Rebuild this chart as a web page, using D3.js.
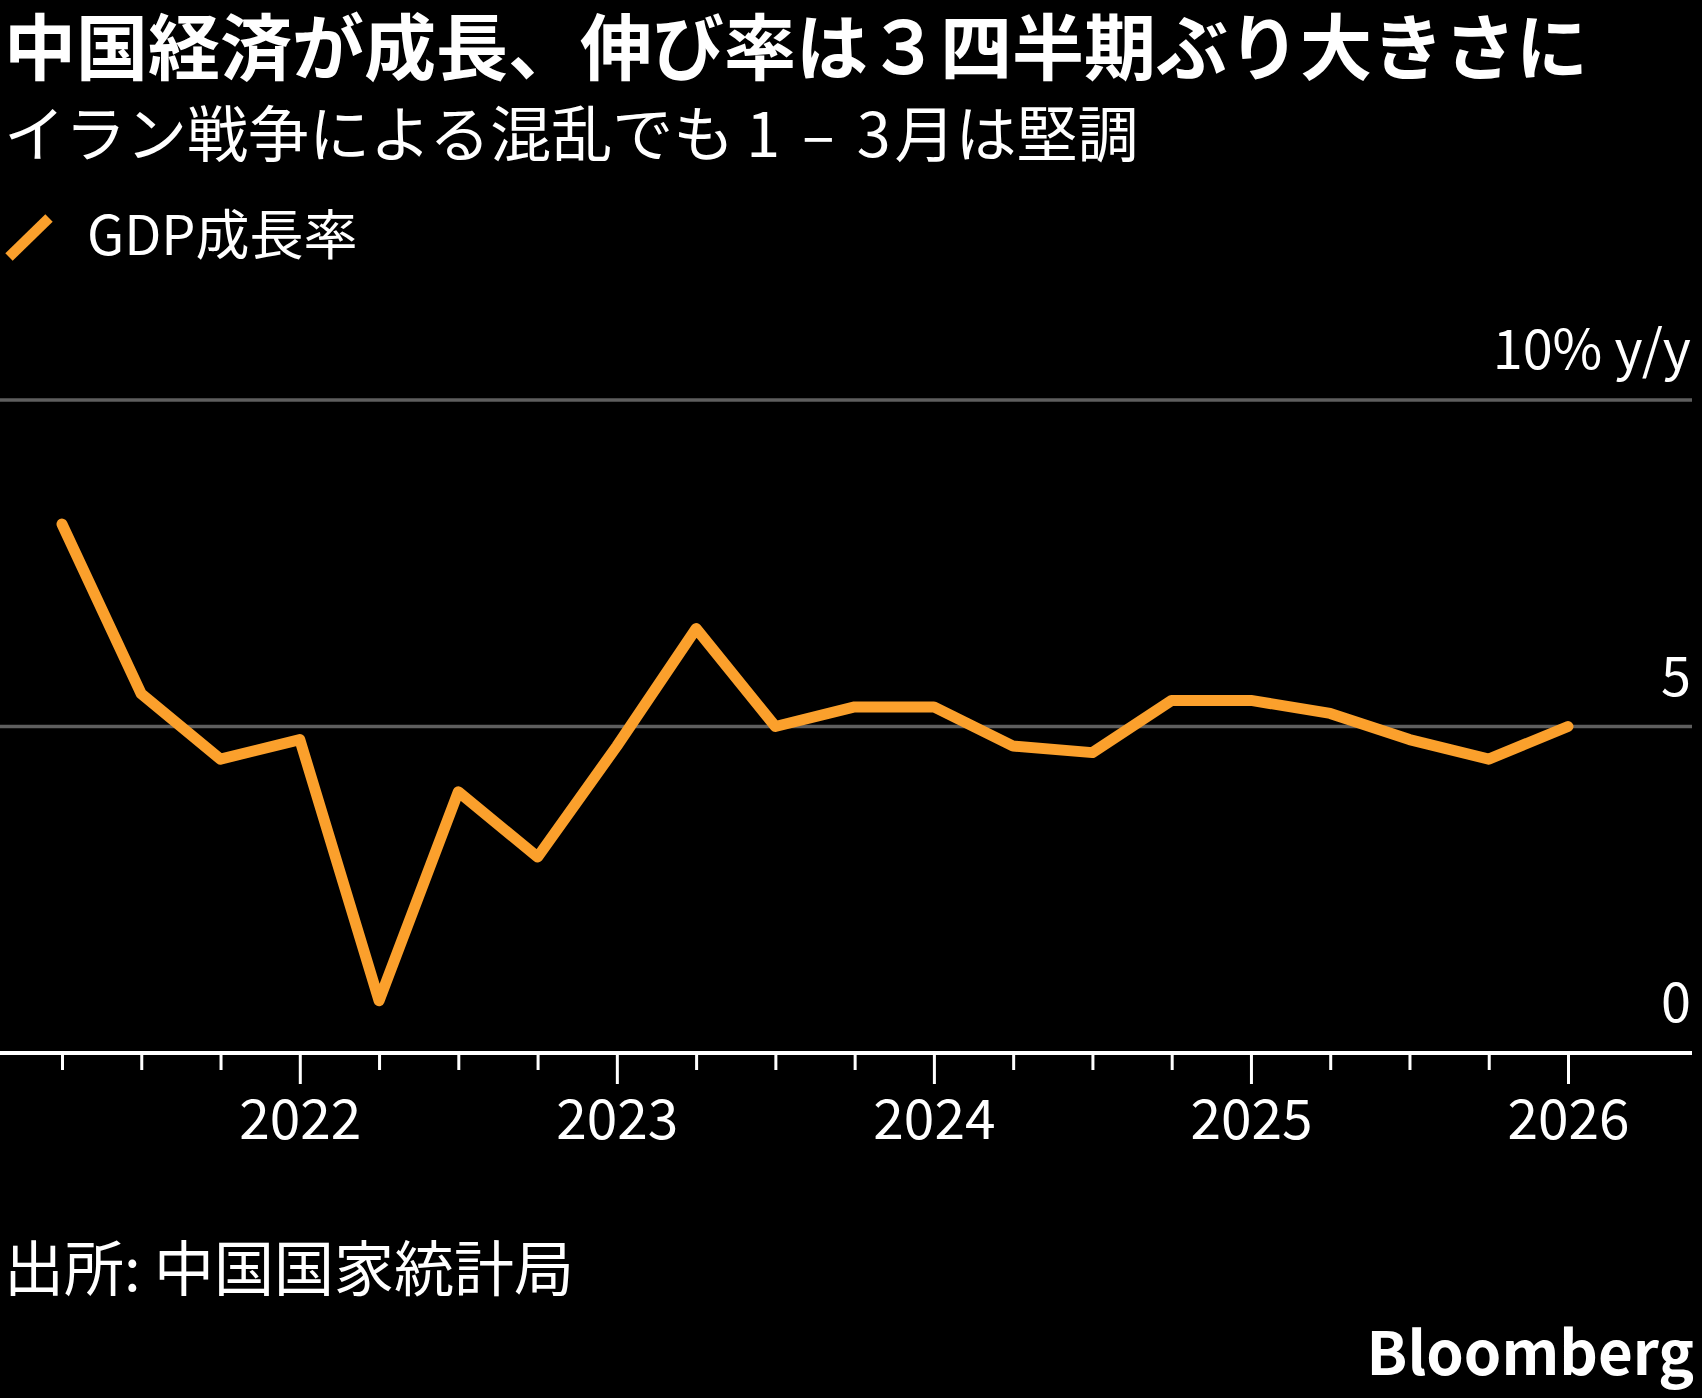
<!DOCTYPE html>
<html>
<head>
<meta charset="utf-8">
<script src="https://cdn.jsdelivr.net/npm/d3@7"></script>
<style>
  body { margin: 0; background: #000; }
  svg { display: block; }
  text { font-family: "Noto Sans CJK JP", "Noto Sans", sans-serif; fill: #fff; }
</style>
</head>
<body>
<svg id="chart"></svg>
<script>
// quarters, Q2 2021 .. Q1 2026
var quarters = ["2021Q2","2021Q3","2021Q4","2022Q1","2022Q2","2022Q3","2022Q4",
                "2023Q1","2023Q2","2023Q3","2023Q4","2024Q1","2024Q2","2024Q3","2024Q4",
                "2025Q1","2025Q2","2025Q3","2025Q4","2026Q1"];
var gdpGrowth = [8.1, 5.5, 4.5, 4.8, 0.8, 4.0, 3.0, 4.7, 6.5, 5.0, 5.3, 5.3,
                 4.7, 4.6, 5.4, 5.4, 5.2, 4.8, 4.5, 5.0];
var yTicks = [0, 5, 10];
var yTickLabels = ["0", "5", "10% y/y"];

var width = 1702;
var height = 1398;
var orange = "#FBA02C";

var svg = d3.select("#chart")
            .attr("width", width)
            .attr("height", height);

svg.append("rect")
   .attr("width", width)
   .attr("height", height)
   .attr("fill", "#000");

// titles
svg.append("text")
   .attr("x", 4)
   .attr("y", 74)
   .attr("font-size", "72px")
   .attr("font-weight", 700)
   .text("中国経済が成長、伸び率は３四半期ぶり大きさに");

var sub = svg.append("text")
   .attr("x", 4)
   .attr("y", 157)
   .attr("font-size", "61px")
   .attr("font-weight", 400);
sub.append("tspan").text("イラン戦争による混乱でも");
sub.append("tspan").attr("dx", 12).text("1");
sub.append("tspan").attr("dx", 22).text("–");
sub.append("tspan").attr("dx", 22).text("3");
sub.append("tspan").attr("dx", 4).text("月は堅調");

// legend
svg.append("line")
   .attr("x1", 9).attr("y1", 257)
   .attr("x2", 49).attr("y2", 218)
   .attr("stroke", orange)
   .attr("stroke-width", 10.5);

svg.append("text")
   .attr("x", 87)
   .attr("y", 255)
   .attr("font-size", "54px")
   .text("GDP成長率");

// scales
var x = d3.scalePoint()
          .domain(quarters)
          .range([62, 1568]);

var y = d3.scaleLinear()
          .domain([0, 10])
          .range([1053, 400]);

// gridlines
svg.selectAll(".grid")
   .data(yTicks.filter(function(d){ return d > 0; }))
   .enter()
   .append("line")
   .attr("class", "grid")
   .attr("x1", 0)
   .attr("x2", 1692)
   .attr("y1", function(d){ return y(d); })
   .attr("y2", function(d){ return y(d); })
   .attr("stroke", "#5e5e5e")
   .attr("stroke-width", 3.5);

// y labels
svg.selectAll(".ylab")
   .data(yTicks)
   .enter()
   .append("text")
   .attr("class", "ylab")
   .attr("x", 1691)
   .attr("y", function(d){ return y(d) - 31; })
   .attr("text-anchor", "end")
   .attr("font-size", "54px")
   .text(function(d, i){ return yTickLabels[i]; });

// x axis
var xAxis = d3.axisBottom(x)
              .tickSize(17)
              .tickPadding(22)
              .tickFormat(function(d){ return d.slice(4) == "Q1" ? d.slice(0, 4) : ""; });

var gx = svg.append("g")
            .attr("transform", "translate(0," + y(0) + ")")
            .call(xAxis);

gx.select(".domain").remove();
gx.selectAll(".tick line")
  .attr("stroke", "#fff")
  .attr("stroke-width", 3)
  .attr("y2", function(d){ return d.slice(4) == "Q1" ? 31 : 17; });
gx.selectAll(".tick text")
  .attr("y", 47)
  .attr("dy", "0.71em")
  .attr("font-size", "55px")
  .attr("font-family", "Noto Sans CJK JP")
  .attr("fill", "#fff");

svg.append("line")
   .attr("x1", 0)
   .attr("x2", 1692)
   .attr("y1", y(0))
   .attr("y2", y(0))
   .attr("stroke", "#fff")
   .attr("stroke-width", 4);

// series line
var line = d3.line()
             .x(function(d, i){ return x(quarters[i]); })
             .y(function(d){ return y(d); });

svg.append("path")
   .datum(gdpGrowth)
   .attr("d", line)
   .attr("fill", "none")
   .attr("stroke", orange)
   .attr("stroke-width", 11)
   .attr("stroke-linejoin", "round")
   .attr("stroke-linecap", "round");

// footer
svg.append("text")
   .attr("x", 4)
   .attr("y", 1291)
   .attr("font-size", "60px")
   .text("出所: 中国国家統計局");

svg.append("text")
   .attr("x", 1694)
   .attr("y", 1375)
   .attr("text-anchor", "end")
   .attr("font-size", "60px")
   .attr("font-weight", 700)
   .attr("font-family", "Noto Sans")
   .text("Bloomberg");
</script>
</body>
</html>
